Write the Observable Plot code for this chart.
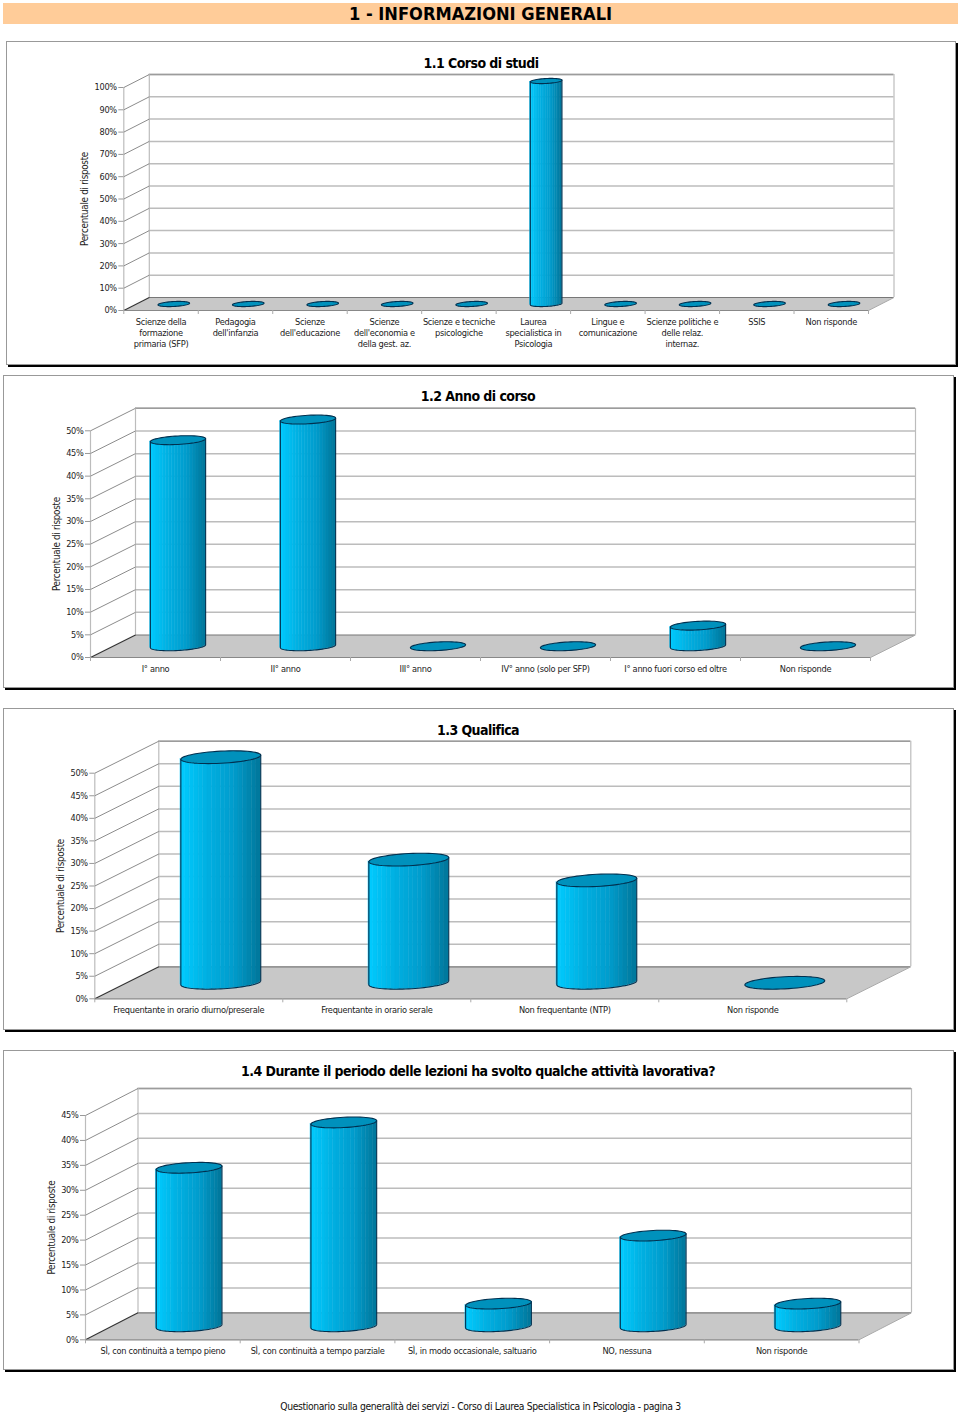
<!DOCTYPE html>
<html lang="it">
<head>
<meta charset="utf-8">
<script src="https://cdn.jsdelivr.net/npm/d3@7"></script>
<script src="https://cdn.jsdelivr.net/npm/@observablehq/plot@0.6"></script>
<style>
  html,body{margin:0;padding:0;background:#fff}
  #page{position:relative;width:960px;height:1413px;overflow:hidden;font-family:"DejaVu Sans Condensed","DejaVu Sans",sans-serif;color:#000}
  .banner{position:absolute;left:3px;top:3px;width:955px;height:21px;background:#FFCC99;text-align:center;font-weight:700;font-size:18.1px;line-height:21px}
  .frame{position:absolute;box-sizing:border-box;border:1px solid #999;box-shadow:2px 2px 0 #000;background:#fff}
  .title{position:absolute;text-align:center;font-weight:700;font-size:14px;letter-spacing:-0.55px;line-height:16px;white-space:nowrap}
  .footer{position:absolute;left:0;width:961px;top:1400px;text-align:center;font-size:10.3px;letter-spacing:-0.36px;line-height:13px;color:#111}
  svg{position:absolute;left:0;overflow:visible}
</style>
</head>
<body>
<div id="page"></div>
<script>
// ---- data ----
const mainTitle = "1 - INFORMAZIONI GENERALI";
const footerText = "Questionario sulla generalità dei servizi - Corso di Laurea Specialistica in Psicologia - pagina 3";
const axisLabel = "Percentuale di risposte";

const title1 = "1.1 Corso di studi";
const categories1 = ["Scienze della\nformazione\nprimaria (SFP)","Pedagogia\ndell'infanzia","Scienze\ndell'educazione","Scienze\ndell'economia e\ndella gest. az.","Scienze e tecniche\npsicologiche","Laurea\nspecialistica in\nPsicologia","Lingue e\ncomunicazione","Scienze politiche e\ndelle relaz.\ninternaz.","SSIS","Non risponde"];
const values1 = [0,0,0,0,0,100,0,0,0,0];
const ticks1 = [0,10,20,30,40,50,60,70,80,90,100];

const title2 = "1.2 Anno di corso";
const categories2 = ["I° anno","II° anno","III° anno","IV° anno (solo per SFP)","I° anno fuori corso ed oltre","Non risponde"];
const values2 = [45.45,50,0,0,4.55,0];
const ticks2 = [0,5,10,15,20,25,30,35,40,45,50];

const title3 = "1.3 Qualifica";
const categories3 = ["Frequentante in orario diurno/preserale","Frequentante in orario serale","Non frequentante (NTP)","Non risponde"];
const values3 = [50,27.3,22.7,0];
const ticks3 = [0,5,10,15,20,25,30,35,40,45,50];

const title4 = "1.4 Durante il periodo delle lezioni ha svolto qualche attività lavorativa?";
const categories4 = ["SÌ, con continuità a tempo pieno","SÌ, con continuità a tempo parziale","SÌ, in modo occasionale, saltuario","NO, nessuna","Non risponde"];
const values4 = [31.8,40.9,4.55,18.2,4.55];
const ticks4 = [0,5,10,15,20,25,30,35,40,45];

// ---- layout options for the four panels (page pixels) ----
const panels = [
  {title:title1,cats:categories1,vals:values1,ticks:ticks1,max:100,box:[6,41,950,324],titleX:481,titleY:63,x0:123.3,x1:868,y0:310,yTop:87,dx:25.5,dy:13,labelX:84},
  {title:title2,cats:categories2,vals:values2,ticks:ticks2,max:50,box:[3,375,951,313],titleX:478,titleY:396,x0:90,x1:870,y0:657,yTop:430.3,dx:45,dy:22.5,labelX:56},
  {title:title3,cats:categories3,vals:values3,ticks:ticks3,max:50,box:[3,708,951,322],titleX:478,titleY:730,x0:94.3,x1:846.3,y0:998.3,yTop:772.7,dx:64,dy:32,labelX:60},
  {title:title4,cats:categories4,vals:values4,ticks:ticks4,max:45,box:[3,1050,951,320],titleX:478,titleY:1071,x0:85,x1:858.5,y0:1339.3,yTop:1115,dx:52.5,dy:27,labelX:51}
];

const FONT = '"DejaVu Sans Condensed","DejaVu Sans",sans-serif';
const SHADE = d3.piecewise(d3.interpolateRgb,["#00CCFF","#00B0E2","#009CCC","#00769A"]);
const page = document.getElementById("page");

function addDiv(cls,text,css){
  const d=document.createElement("div");
  d.className=cls;
  if(text)d.textContent=text;
  Object.assign(d.style,css||{});
  page.appendChild(d);
}
addDiv("banner",mainTitle);

for(const p of panels){
  const [bx,by,bw,bh]=p.box;
  addDiv("frame","",{left:bx+"px",top:by+"px",width:bw+"px",height:bh+"px"});

  const n=p.cats.length, band=(p.x1-p.x0)/n, pct=(p.y0-p.yTop)/p.max;
  const dxU=p.dx/band, dyU=p.dy/pct;              // depth of the box in data units
  const xBack=dxU, yBack=dyU, xEnd=n, yEnd=p.max;
  const H=bh+6, A=0.2125, D=0.2, Dx=D*dxU, Dy=D*dyU;
  const R=Math.sqrt(A*A-Dx*Dx), t0=Math.atan2(Dx,R);
  const at=(i,v,u)=>{                             // point of the rim at angle u from silhouette
    const t=u+t0, c=i+0.5+0.5*dxU, b=v+0.5*dyU;
    return {x:c+A*Math.cos(u), y:b+Dy*Math.sin(t)};
  };

  const rims=[], sides=[], stripes=[];
  p.vals.forEach((v,i)=>{
    d3.range(0,61).forEach(k=>{const q=at(i,v,k/60*2*Math.PI);rims.push({...q,i});});
    if(v>0){
      const s=[], NS=18;
      d3.range(0,41).forEach(k=>{const q=at(i,0,Math.PI+k/40*Math.PI);s.push({...q,i});});
      sides.push({i,pts:[{x:s[0].x,y:at(i,v,Math.PI).y,i},...s,{x:s[40].x,y:at(i,v,0).y,i}]});
      d3.range(NS).forEach(j=>{
        const a=-1+2*j/NS, b=-1+2*(j+1)/NS, col=d3.color(SHADE((j+0.5)/NS)).formatHex();
        d3.range(0,5).forEach(m=>{
          const xn=a+(b-a)*m/4, u=2*Math.PI-Math.acos(xn);
          const lo=at(i,0,u), hi=at(i,v,u);
          stripes.push({x:lo.x,lo:lo.y,hi:hi.y,key:i+"-"+j,col});
        });
      });
    }
  });

  const floor=[{x:0,y:0},{x:xEnd,y:0},{x:xEnd+xBack,y:yBack},{x:xBack,y:yBack}];
  const grid=p.ticks.filter(t=>t>0);
  const labelRows=p.cats.map((c,i)=>({c,x:i+0.5}));

  const plot=Plot.plot({
    width:960,height:H,
    marginLeft:p.x0, marginRight:960-p.x1-p.dx,
    marginTop:p.yTop-p.dy-by, marginBottom:H-(p.y0-by),
    x:{domain:[0,xEnd+xBack],axis:null},
    y:{domain:[0,yEnd+yBack],axis:null},
    color:{type:"identity"},
    style:{fontFamily:FONT,fontSize:"9.1px",letterSpacing:"-0.3px",background:"transparent",top:by+"px"},
    marks:[
      // floor
      Plot.line([...floor,floor[0]],{x:"x",y:"y",fill:"#C8C8C8",stroke:"none"}),
      // back wall
      Plot.ruleY(grid,{y:d=>d+yBack,x1:xBack,x2:xEnd+xBack,stroke:"#BCBCBC",strokeWidth:1.5}),
      Plot.ruleY([yEnd+yBack],{x1:xBack,x2:xEnd+xBack,stroke:"#9C9C9C",strokeWidth:1.5}),
      Plot.ruleX([xBack,xEnd+xBack],{y1:yBack,y2:yEnd+yBack,stroke:"#BCBCBC",strokeWidth:1.2}),
      // left wall
      Plot.ruleX([0],{y1:0,y2:yEnd,stroke:"#BCBCBC",strokeWidth:1.2}),
      Plot.link(grid,{x1:0,y1:d=>d,x2:xBack,y2:d=>d+yBack,stroke:"#8C8C8C",strokeWidth:1}),
      // floor edges
      Plot.ruleY([yBack],{x1:xBack,x2:xEnd+xBack,stroke:"#777",strokeWidth:1.2}),
      Plot.link([0],{x1:0,y1:0,x2:xBack,y2:yBack,stroke:"#333",strokeWidth:1.1}),
      Plot.link([0],{x1:xEnd,y1:0,x2:xEnd+xBack,y2:yBack,stroke:"#AAA",strokeWidth:1}),
      Plot.ruleY([0],{x1:0,x2:xEnd,stroke:"#888",strokeWidth:1.2}),
      // axes
      Plot.axisY({ticks:p.ticks,tickFormat:d=>d+"%",anchor:"left",tickSize:5,tickPadding:2,stroke:"#999",fill:"#222",label:null}),
      Plot.axisX({ticks:d3.range(0,n+1),tickFormat:()=>"",anchor:"bottom",tickSize:4,stroke:"#AAA",label:null}),
      Plot.text(labelRows,{x:"x",y:()=>0,text:"c",lineAnchor:"top",dy:6.5,lineHeight:1.2,fontSize:9.2,fill:"#222"}),
      Plot.text([axisLabel],{frameAnchor:"left",y:()=>p.max/2,text:d=>d,rotate:-90,dx:p.labelX-p.x0,textAnchor:"middle",fontSize:9.8,fill:"#222"}),
      // cylinders
      Plot.area(stripes,{x1:"x",y1:"lo",y2:"hi",z:"key",fill:"col",stroke:"col",strokeWidth:0.6}),
      ...sides.map(s=>Plot.line(s.pts,{x:"x",y:"y",stroke:"#00304F",strokeWidth:1.1})),
      Plot.line(rims,{x:"x",y:"y",z:"i",fill:"#0091BC",stroke:"#00304F",strokeWidth:1.1})
    ]
  });
  page.appendChild(plot);

  addDiv("title",p.title,{left:p.titleX+"px",top:(p.titleY-8)+"px",transform:"translateX(-50%)"});
}
addDiv("footer",footerText);
</script>
</body>
</html>
